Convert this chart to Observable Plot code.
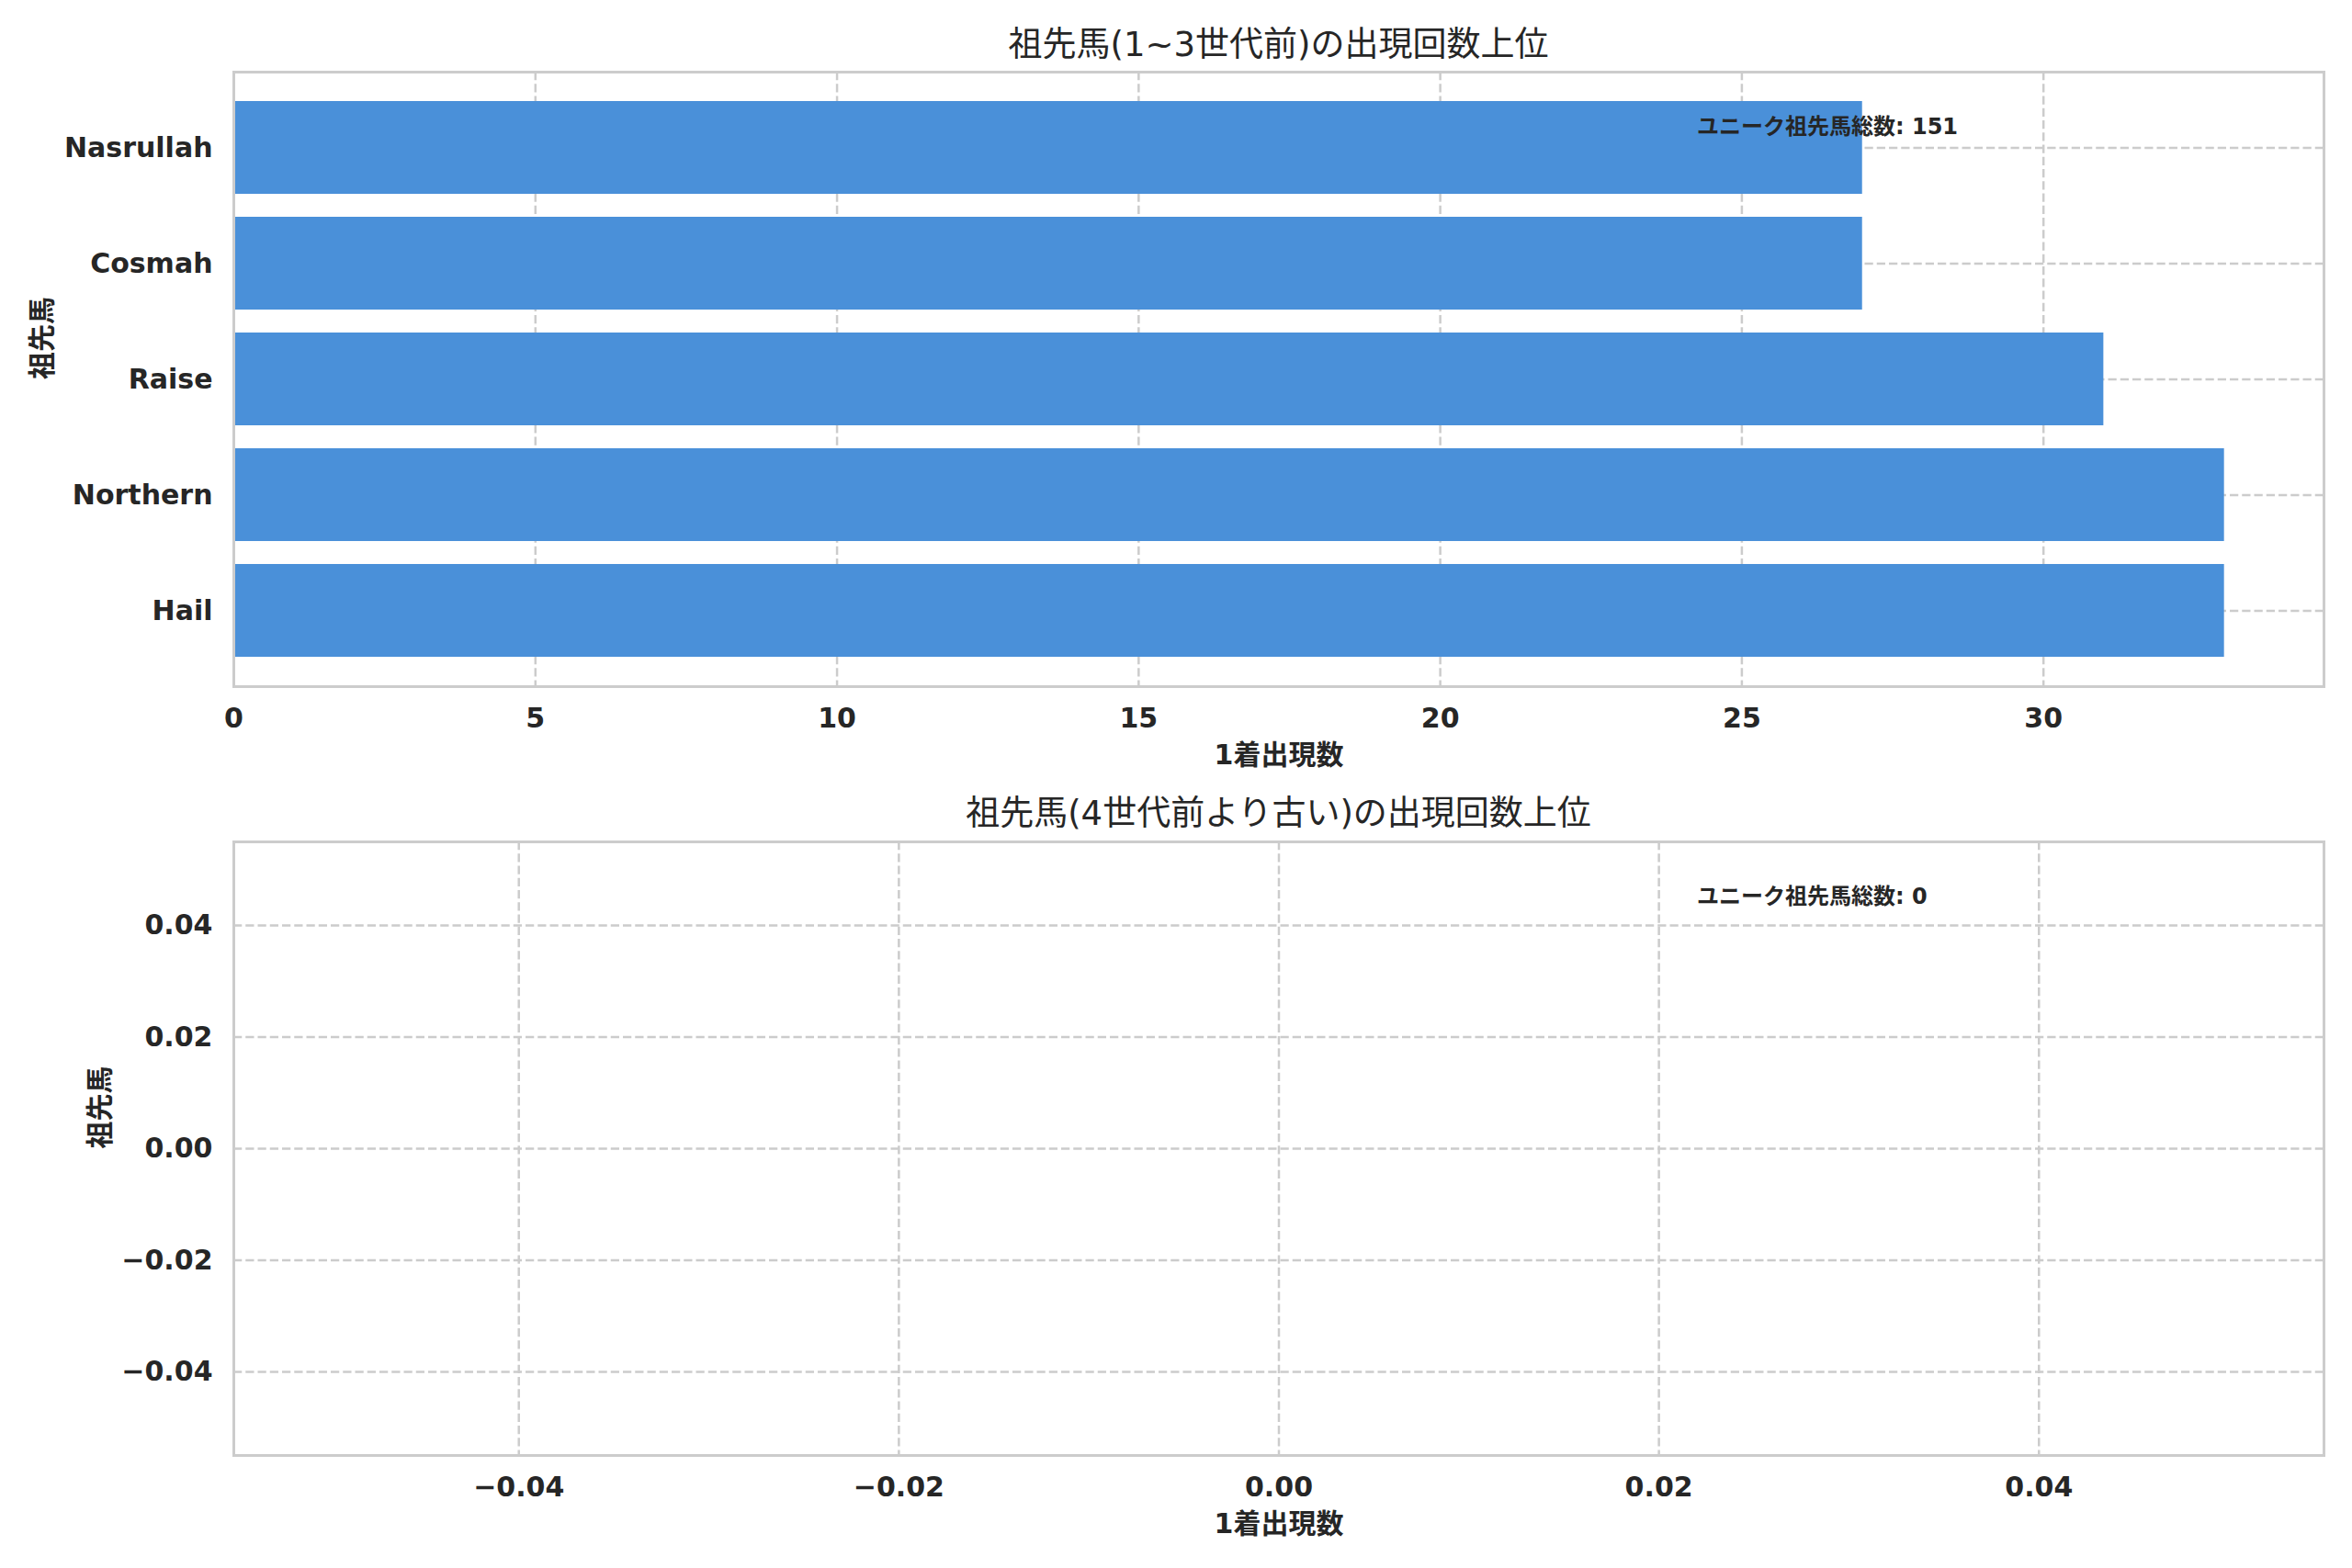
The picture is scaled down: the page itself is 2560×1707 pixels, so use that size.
<!DOCTYPE html>
<html><head><meta charset="utf-8">
<script src="https://cdn.jsdelivr.net/npm/d3@7"></script>
<script src="https://cdn.jsdelivr.net/npm/@observablehq/plot@0.6"></script>
<style>
body{margin:0;background:#fff;}
#fig{position:relative;width:2560px;height:1707px;overflow:hidden;font-family:"DejaVu Sans","Noto Sans CJK JP",sans-serif;color:#262626;background:#fff;}
.title{position:absolute;left:254px;width:2275px;text-align:center;font-size:37px;line-height:44px;height:44px;}
#fig svg{position:absolute;left:0;}
</style></head><body><div id="fig"></div>
<script>
// ---- data ----
const ancestors = ["Hail", "Northern", "Raise", "Cosmah", "Nasrullah"];
const counts = [33, 33, 31, 27, 27];
const xTicksTop = [0, 5, 10, 15, 20, 25, 30];
const ticksBottom = [-0.04, -0.02, 0, 0.02, 0.04];
const titleTop = "祖先馬(1~3世代前)の出現回数上位";
const titleBottom = "祖先馬(4世代前より古い)の出現回数上位";
const xLabel = "1着出現数";
const yLabel = "祖先馬";
const noteTop = "ユニーク祖先馬総数: 151";
const noteBottom = "ユニーク祖先馬総数: 0";

const fontFamily = '"DejaVu Sans","Noto Sans CJK JP",sans-serif';
const ink = "#262626";
const gridStyle = {stroke: "#cccccc", strokeOpacity: 1, strokeWidth: 2.5, strokeDasharray: "9.25,4"};
const axisStyle = {tickSize: 0, tickPadding: 23, fontWeight: "bold", fill: ink, label: null, fontSize: 30};
const labelStyle = {text: d => d, fontWeight: "bold", fontSize: 30, fill: ink, lineAnchor: "middle"};

const fig = document.getElementById("fig");

// ---- top chart ----
const dataTop = ancestors.map((name, i) => ({name, count: counts[i]}));
const p1 = Plot.plot({
  width: 2560, height: 840,
  marginTop: 78, marginBottom: 93, marginLeft: 254, marginRight: 31,
  style: {fontFamily, fontSize: "30px", color: ink, background: "transparent", overflow: "visible"},
  x: {domain: [0, 34.65], label: null},
  y: {domain: ancestors.slice().reverse(), paddingInner: 0.2, paddingOuter: 0.24, label: null},
  marks: [
    Plot.gridX(xTicksTop, gridStyle),
    Plot.gridY(gridStyle),
    Plot.barX(dataTop, {x: "count", y: "name", fill: "#4a90d9"}),
    Plot.frame({stroke: "#cccccc", strokeWidth: 3}),
    Plot.axisX(xTicksTop, axisStyle),
    Plot.axisY(axisStyle),
    Plot.text([xLabel], {...labelStyle, frameAnchor: "bottom", dy: 75}),
    Plot.text([yLabel], {...labelStyle, frameAnchor: "left", dx: -208, rotate: -90}),
    Plot.text([noteTop], {text: d => d, frameAnchor: "top-left", dx: 1592.5, dy: 60, textAnchor: "start", lineAnchor: "middle", fontWeight: "bold", fontSize: 24, fill: ink})
  ]
});
p1.style.top = "0px";
fig.appendChild(p1);

// ---- bottom chart ----
const fmt = d3.format(".2f");
const p2 = Plot.plot({
  width: 2560, height: 867,
  marginTop: 76, marginBottom: 123, marginLeft: 254, marginRight: 31,
  style: {fontFamily, fontSize: "30px", color: ink, background: "transparent", overflow: "visible"},
  x: {domain: [-0.055, 0.055], label: null},
  y: {domain: [-0.055, 0.055], label: null},
  marks: [
    Plot.gridX(ticksBottom, gridStyle),
    Plot.gridY(ticksBottom, gridStyle),
    Plot.frame({stroke: "#cccccc", strokeWidth: 3}),
    Plot.axisX(ticksBottom, {...axisStyle, tickFormat: fmt}),
    Plot.axisY(ticksBottom, {...axisStyle, tickFormat: fmt}),
    Plot.text([xLabel], {...labelStyle, frameAnchor: "bottom", dy: 75}),
    Plot.text([yLabel], {...labelStyle, frameAnchor: "left", dx: -145, rotate: -90}),
    Plot.text([noteBottom], {text: d => d, frameAnchor: "top-left", dx: 1592.5, dy: 60, textAnchor: "start", lineAnchor: "middle", fontWeight: "bold", fontSize: 24, fill: ink})
  ]
});
p2.style.top = "840px";
fig.appendChild(p2);

// ---- titles ----
for (const [t, cy] of [[titleTop, 49], [titleBottom, 886]]) {
  const d = document.createElement("div");
  d.className = "title";
  d.textContent = t;
  d.style.top = (cy - 22) + "px";
  fig.appendChild(d);
}
</script>
</body></html>
